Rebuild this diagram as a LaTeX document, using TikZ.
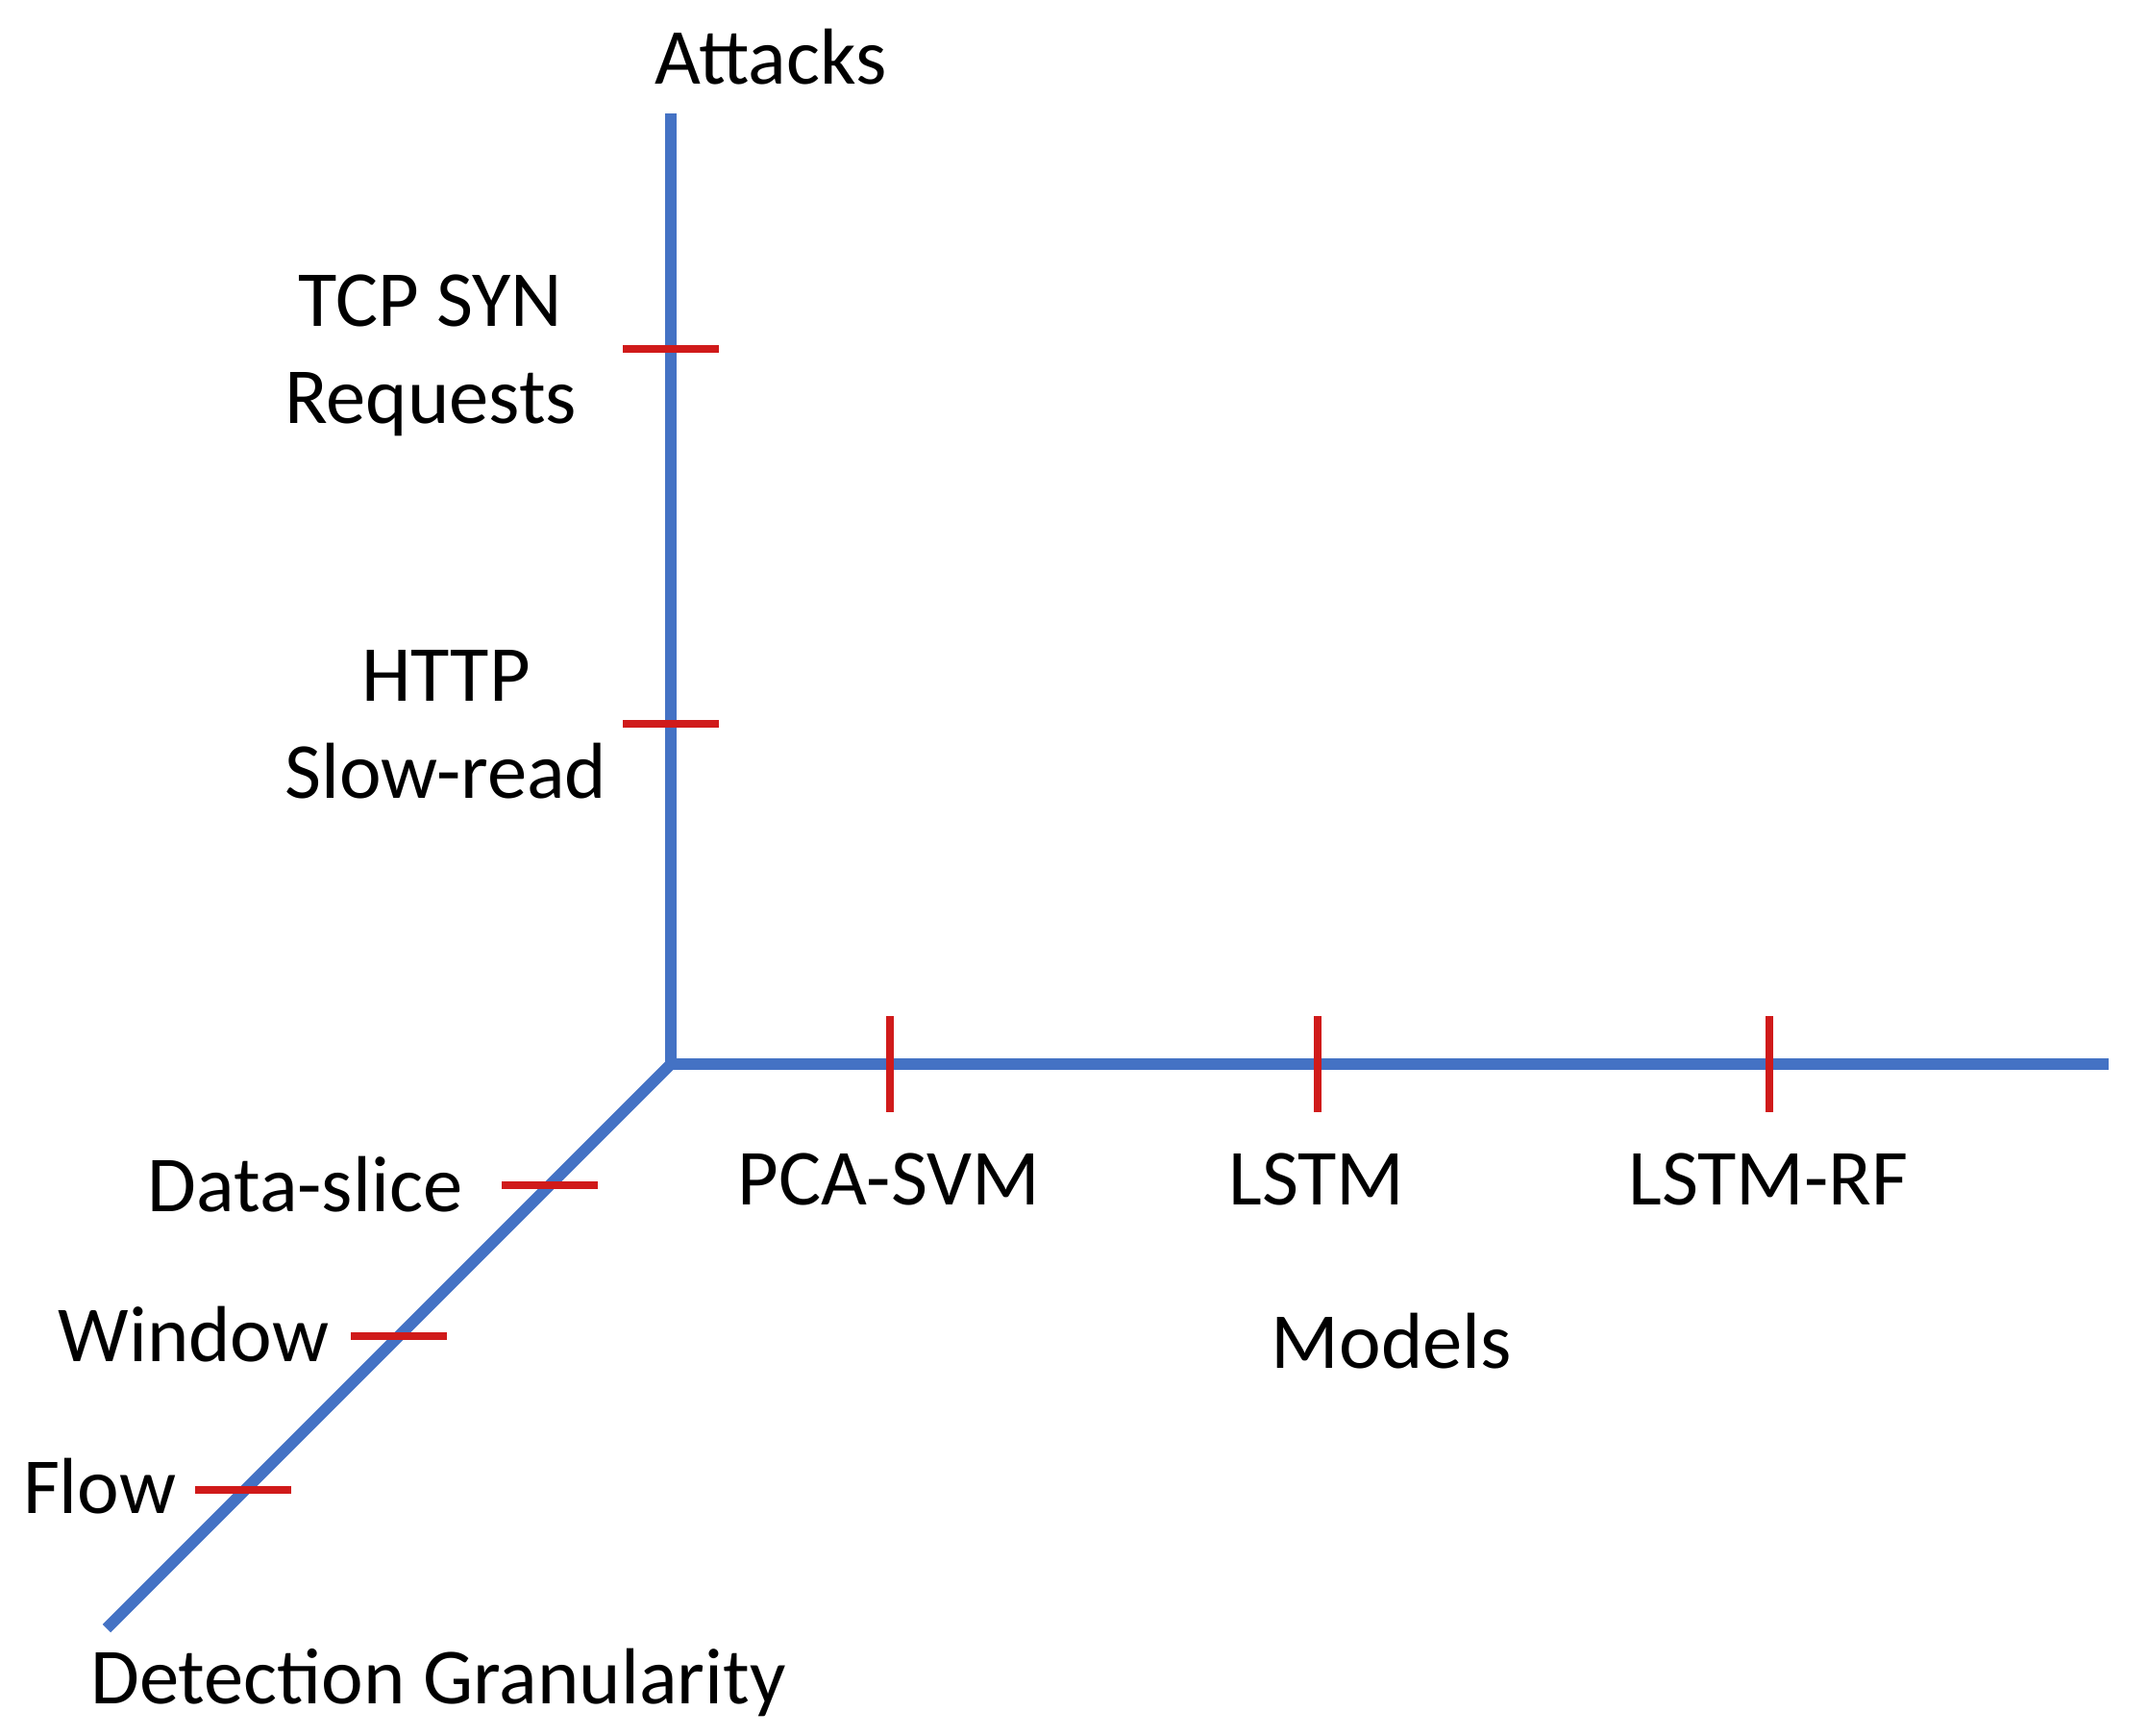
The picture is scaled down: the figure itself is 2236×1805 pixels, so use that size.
\documentclass[tikz,border=0pt]{standalone}
\usepackage{fontspec}
\setmainfont{Carlito}
\definecolor{axisblue}{HTML}{4472C4}
\definecolor{tickred}{HTML}{D01A1A}
\begin{document}
\begin{tikzpicture}[x=0.01cm, y=-0.01cm,
        axis/.style={draw=axisblue, line width=3.4pt},
        tick/.style={draw=tickred, line width=2.2pt},
        lbl/.style={inner sep=0pt, font=\fontsize{23.5}{28.5}\selectfont}]
        \useasboundingbox (0,0) rectangle (2236,1805);

        \coordinate (O)    at (698,1107);
        \coordinate (Atop) at (698,118);
        \coordinate (Mend) at (2194,1107);
        \coordinate (Gend) at (111,1694);

        \coordinate (A1) at (698,363);
        \coordinate (A2) at (698,753);
        \coordinate (M1) at (926,1107);
        \coordinate (M2) at (1371,1107);
        \coordinate (M3) at (1841,1107);
        \coordinate (G1) at (572,1233);
        \coordinate (G2) at (415,1390);
        \coordinate (G3) at (253,1550);

        \path[axis] (Atop) -- (O) -- (Mend);
        \path[axis] (O) -- (Gend);

        \draw[tick] (A1) ++(-50,0) -- ++(100,0);
        \draw[tick] (A2) ++(-50,0) -- ++(100,0);
        \draw[tick] (M1) ++(0,-50) -- ++(0,100);
        \draw[tick] (M2) ++(0,-50) -- ++(0,100);
        \draw[tick] (M3) ++(0,-50) -- ++(0,100);
        \draw[tick] (G1) ++(-50,0) -- ++(100,0);
        \draw[tick] (G2) ++(-50,0) -- ++(100,0);
        \draw[tick] (G3) ++(-50,0) -- ++(100,0);

        \node[lbl, anchor=base] (Att)  at (802,87)   {Attacks};
        \node[lbl, anchor=base, align=center] (TCP)  at (448,440) {TCP SYN\\Requests};
        \node[lbl, anchor=base, align=center] (HTTP) at (464,830) {HTTP\\Slow-read};
        \node[lbl, anchor=base] (PCA)  at (925,1253)  {PCA-SVM};
        \node[lbl, anchor=base] (LSTM) at (1370,1253) {LSTM};
        \node[lbl, anchor=base] (LRF)  at (1840,1253) {LSTM-RF};
        \node[lbl, anchor=base] (Mod)  at (1448,1423) {Models};
        \node[lbl, anchor=base east] (Slice) at (482,1260) {Data-slice};
        \node[lbl, anchor=base east] (Win)   at (343,1416) {Window};
        \node[lbl, anchor=base east] (Flow)  at (184,1574) {Flow};
        \node[lbl, anchor=base] (Gran) at (456,1772) {Detection Granularity};
    \end{tikzpicture}
\end{document}
